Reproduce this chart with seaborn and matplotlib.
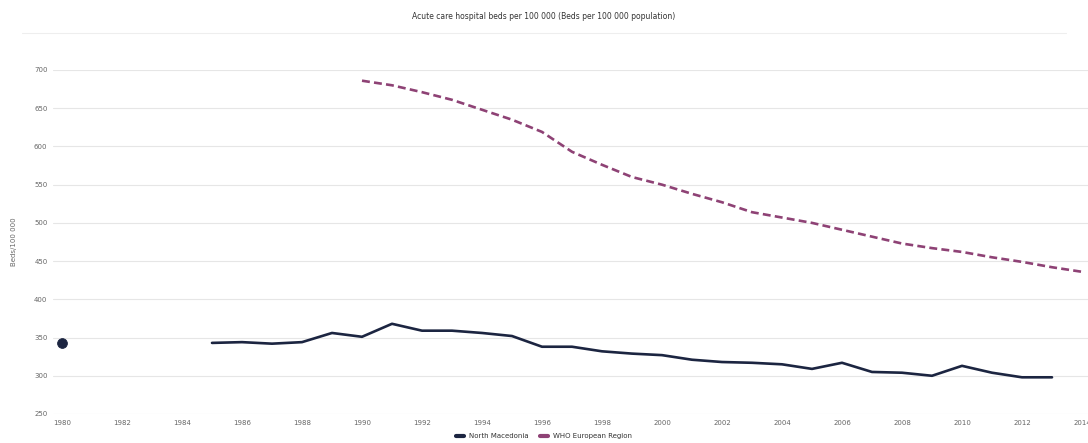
import pandas as pd
import matplotlib
matplotlib.use("Agg")
import matplotlib.pyplot as plt
from matplotlib.lines import Line2D
import seaborn as sns

# values (beds per 100 000)
mk_dot_year = [1980]
mk_dot_val = [343]

mk_years = list(range(1985, 2014))
mk_vals = [343, 344, 342, 344, 356, 351, 368, 359, 359, 356,
           352, 338, 338, 332, 329, 327, 321, 318, 317, 315,
           309, 317, 305, 304, 300, 313, 304, 298, 298]

eu_years = list(range(1990, 2015))
eu_vals = [686, 680, 671, 661, 648, 635, 619, 593, 576, 560,
           550, 538, 527, 514, 507, 500, 491, 482, 473, 467,
           462, 455, 449, 442, 436]

x_ticks = list(range(1980, 2015, 2))
y_ticks = list(range(250, 701, 50))

navy = "#1c2541"
purple = "#8e4275"
grey_txt = "#666666"

df_mk = pd.DataFrame({"year": mk_years, "value": mk_vals})
df_eu = pd.DataFrame({"year": eu_years, "value": eu_vals})
df_dot = pd.DataFrame({"year": mk_dot_year, "value": mk_dot_val})

sns.set_style("white")
fig = plt.figure(figsize=(10.88, 4.43), dpi=100)
ax = fig.add_axes([53 / 1088, 29 / 443, 1035 / 1088, 344 / 443])

sns.lineplot(data=df_mk, x="year", y="value", ax=ax, color=navy, linewidth=1.9)
sns.lineplot(data=df_eu, x="year", y="value", ax=ax, color=purple, linewidth=1.9,
             linestyle=(0, (3, 1.6)))
sns.scatterplot(data=df_dot, x="year", y="value", ax=ax, color=navy, s=50,
                marker="o", edgecolor=navy, zorder=5)

ax.set_xlim(1979.7, 2014.2)
ax.set_ylim(250, 700)
ax.set_xticks(x_ticks)
ax.set_yticks(y_ticks)
ax.tick_params(axis="both", labelsize=5, colors=grey_txt, length=0, pad=4)
ax.grid(axis="y", color="#e6e6e6", linewidth=0.8)
for s in ax.spines.values():
    s.set_visible(False)
ax.set_xlabel("")
ax.set_ylabel("Beds/100 000", fontsize=5, color=grey_txt, labelpad=12)

fig.text(0.5, 0.962, "Acute care hospital beds per 100 000 (Beds per 100 000 population)",
         ha="center", va="center", fontsize=5.5, color="#333333")
fig.add_artist(Line2D([0.02, 0.98], [0.925, 0.925], color="#eeeeee", linewidth=0.8))

handles = [Line2D([], [], color=navy, linewidth=3),
           Line2D([], [], color=purple, linewidth=3)]
fig.legend(handles, ["North Macedonia", "WHO European Region"], loc="center",
           bbox_to_anchor=(0.5, 0.015), ncol=2, frameon=False, fontsize=5,
           handlelength=1.2, columnspacing=1.5, labelcolor="#333333")

fig.savefig("out.png", dpi=100)
